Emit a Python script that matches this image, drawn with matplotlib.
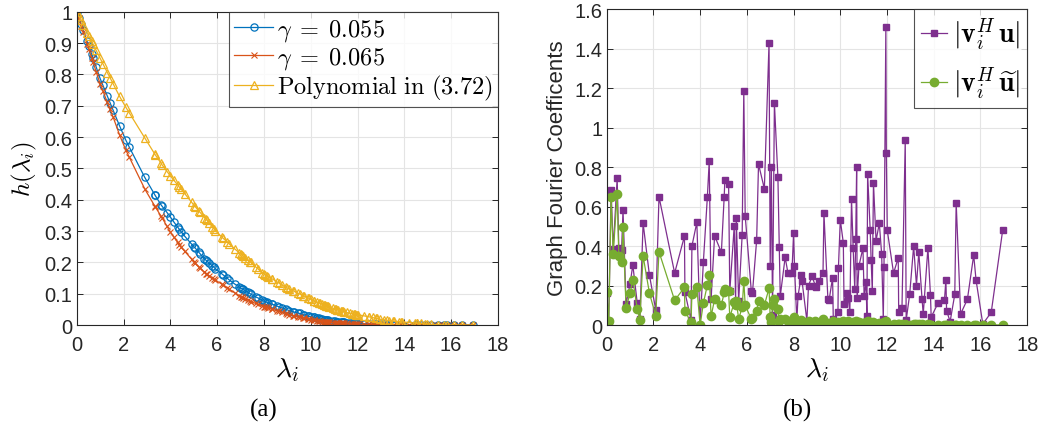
import matplotlib
matplotlib.use('Agg')
import matplotlib.pyplot as plt
from matplotlib.ticker import FuncFormatter

# graph Laplacian eigenvalues
lam = [0.00, 0.09, 0.19, 0.28, 0.45, 0.52, 0.64, 0.70, 0.83, 1.00,
       1.12, 1.31, 1.42, 1.56, 1.83, 2.10, 2.24, 2.91, 3.33, 3.35,
       3.61, 3.65, 3.86, 4.00, 4.14, 4.31, 4.39, 4.47, 4.62, 4.91,
       5.03, 5.06, 5.22, 5.27, 5.46, 5.52, 5.55, 5.65, 5.80, 5.87,
       5.93, 6.19, 6.24, 6.42, 6.50, 6.75, 6.95, 7.00, 7.05, 7.10,
       7.18, 7.33, 7.39, 7.43, 7.64, 7.76, 7.93, 8.00, 8.04, 8.14,
       8.19, 8.33, 8.36, 8.57, 8.64, 8.79, 8.93, 8.98, 9.08, 9.26,
       9.30, 9.47, 9.52, 9.67, 9.70, 9.90, 9.92, 10.00, 10.13, 10.16,
       10.27, 10.34, 10.41, 10.48, 10.55, 10.62, 10.66, 10.70, 10.72, 10.80,
       10.97, 11.02, 11.10, 11.14, 11.17, 11.28, 11.32, 11.37, 11.42, 11.53,
       11.67, 11.77, 11.84, 11.87, 11.95, 11.97, 12.01, 12.28, 12.48, 12.50,
       12.64, 12.78, 12.82, 12.97, 13.14, 13.26, 13.36, 13.50, 13.55, 13.75,
       13.86, 13.89, 14.18, 14.46, 14.52, 14.55, 14.70, 14.90, 14.96, 15.15,
       15.44, 15.71, 15.81, 16.10, 16.46, 16.95]

# filter responses h(lambda_i)
h_055 = [1.0, 0.981, 0.96, 0.941, 0.905, 0.891, 0.865, 0.852, 0.824, 0.787,
         0.765, 0.73, 0.71, 0.685, 0.636, 0.59, 0.569, 0.471, 0.416, 0.414,
         0.383, 0.379, 0.359, 0.345, 0.33, 0.313, 0.305, 0.297, 0.283, 0.258,
         0.248, 0.246, 0.232, 0.228, 0.211, 0.207, 0.205, 0.198, 0.188, 0.184,
         0.179, 0.164, 0.161, 0.15, 0.145, 0.131, 0.121, 0.118, 0.116, 0.114,
         0.11, 0.104, 0.101, 0.099, 0.09, 0.086, 0.079, 0.076, 0.075, 0.072,
         0.071, 0.067, 0.066, 0.06, 0.058, 0.054, 0.05, 0.049, 0.046, 0.042,
         0.041, 0.038, 0.037, 0.033, 0.033, 0.028, 0.028, 0.026, 0.024, 0.024,
         0.022, 0.021, 0.019, 0.018, 0.017, 0.016, 0.016, 0.015, 0.015, 0.014,
         0.012, 0.012, 0.011, 0.011, 0.011, 0.01, 0.009, 0.009, 0.009, 0.008,
         0.007, 0.006, 0.006, 0.006, 0.005, 0.005, 0.005, 0.004, 0.003, 0.003,
         0.003, 0.002, 0.002, 0.002, 0.002, 0.001, 0.001, 0.001, 0.001, 0.001,
         0.001, 0.001, 0.0, 0.0, 0.0, 0.0, 0.0, 0.0, 0.0, 0.0,
         0.0, 0.0, 0.0, 0.0, 0.0, 0.0]
h_065 = [1.0, 0.979, 0.956, 0.936, 0.897, 0.881, 0.853, 0.839, 0.809, 0.77,
         0.747, 0.711, 0.69, 0.663, 0.607, 0.558, 0.537, 0.434, 0.38, 0.378,
         0.347, 0.342, 0.315, 0.297, 0.282, 0.264, 0.256, 0.248, 0.235, 0.21,
         0.2, 0.197, 0.185, 0.182, 0.168, 0.164, 0.162, 0.158, 0.15, 0.146,
         0.143, 0.131, 0.128, 0.119, 0.115, 0.103, 0.092, 0.09, 0.088, 0.087,
         0.084, 0.079, 0.077, 0.075, 0.069, 0.066, 0.061, 0.059, 0.058, 0.056,
         0.054, 0.051, 0.05, 0.045, 0.044, 0.04, 0.037, 0.035, 0.033, 0.03,
         0.029, 0.026, 0.025, 0.022, 0.022, 0.019, 0.018, 0.017, 0.015, 0.015,
         0.014, 0.013, 0.012, 0.011, 0.011, 0.01, 0.01, 0.009, 0.009, 0.009,
         0.007, 0.007, 0.007, 0.006, 0.006, 0.006, 0.006, 0.006, 0.005, 0.005,
         0.004, 0.004, 0.003, 0.003, 0.003, 0.003, 0.003, 0.002, 0.002, 0.002,
         0.002, 0.001, 0.001, 0.001, 0.001, 0.001, 0.001, 0.0, 0.0, 0.0,
         0.0, 0.0, 0.0, 0.0, 0.0, 0.0, 0.0, 0.0, 0.0, 0.0,
         0.0, 0.0, 0.0, 0.0, 0.0, 0.0]
h_poly = [1.0, 0.987, 0.972, 0.959, 0.933, 0.922, 0.905, 0.896, 0.877, 0.852,
          0.834, 0.806, 0.79, 0.769, 0.73, 0.695, 0.678, 0.597, 0.547, 0.544,
          0.516, 0.511, 0.49, 0.476, 0.463, 0.448, 0.44, 0.433, 0.419, 0.392,
          0.38, 0.378, 0.364, 0.36, 0.343, 0.338, 0.336, 0.327, 0.313, 0.307,
          0.301, 0.282, 0.278, 0.266, 0.26, 0.243, 0.23, 0.227, 0.224, 0.221,
          0.215, 0.206, 0.202, 0.2, 0.186, 0.178, 0.167, 0.163, 0.161, 0.157,
          0.154, 0.148, 0.147, 0.137, 0.134, 0.127, 0.121, 0.119, 0.115, 0.109,
          0.107, 0.101, 0.099, 0.094, 0.093, 0.086, 0.085, 0.082, 0.078, 0.077,
          0.073, 0.071, 0.069, 0.067, 0.065, 0.063, 0.061, 0.06, 0.06, 0.057,
          0.053, 0.052, 0.05, 0.049, 0.048, 0.046, 0.045, 0.044, 0.043, 0.04,
          0.038, 0.036, 0.035, 0.034, 0.033, 0.033, 0.033, 0.029, 0.026, 0.026,
          0.024, 0.021, 0.021, 0.018, 0.017, 0.015, 0.014, 0.013, 0.012, 0.011,
          0.01, 0.01, 0.008, 0.006, 0.006, 0.006, 0.005, 0.003, 0.003, 0.002,
          0.001, 0.0, 0.0, 0.0, 0.0, 0.0]

# |v_i^H u| and |v_i^H u~|
coef_u = [0.16, 0.02, 0.685, 0.385, 0.743, 0.39, 0.38, 0.584, 0.106, 0.207,
          0.304, 0.11, 0.03, 0.516, 0.253, 0.078, 0.65, 0.263, 0.45, 0.166,
          0.027, 0.40, 0.52, 0.0, 0.32, 0.647, 0.83, 0.13, 0.452, 0.368,
          0.647, 0.736, 0.714, 0.17, 0.50, 0.118, 0.54, 0.12, 0.456, 1.186,
          0.553, 0.174, 0.162, 0.43, 0.815, 0.69, 1.428, 0.30, 0.80, 0.05,
          1.124, 0.748, 0.396, 0.145, 0.343, 0.263, 0.263, 0.464, 0.297, 0.02,
          0.145, 0.253, 0.225, 0.022, 0.20, 0.246, 0.20, 0.19, 0.225, 0.263,
          0.567, 0.13, 0.125, 0.24, 0.03, 0.064, 0.29, 0.533, 0.415, 0.106,
          0.162, 0.135, 0.067, 0.64, 0.39, 0.18, 0.435, 0.80, 0.135, 0.30,
          0.39, 0.146, 0.22, 0.044, 0.765, 0.48, 0.33, 0.17, 0.72, 0.427,
          0.515, 0.36, 0.03, 0.295, 1.507, 0.87, 0.48, 0.263, 0.34, 0.065,
          0.087, 0.935, 0.025, 0.155, 0.40, 0.20, 0.37, 0.13, 0.055, 0.39,
          0.15, 0.04, 0.11, 0.127, 0.23, 0.073, 0.017, 0.155, 0.62, 0.056,
          0.13, 0.354, 0.228, 0.005, 0.064, 0.48]
coef_ut = [0.165, 0.022, 0.65, 0.36, 0.663, 0.35, 0.32, 0.494, 0.086, 0.16,
           0.23, 0.081, 0.027, 0.35, 0.162, 0.047, 0.371, 0.125, 0.19, 0.072,
           0.013, 0.157, 0.19, 0.0, 0.11, 0.203, 0.253, 0.044, 0.13, 0.10,
           0.165, 0.18, 0.17, 0.039, 0.115, 0.10, 0.12, 0.03, 0.09, 0.224,
           0.10, 0.03, 0.035, 0.072, 0.12, 0.10, 0.186, 0.04, 0.013, 0.10,
           0.13, 0.08, 0.02, 0.03, 0.03, 0.02, 0.015, 0.04, 0.0, 0.02,
           0.005, 0.025, 0.01, 0.01, 0.02, 0.01, 0.02, 0.0, 0.01, 0.03,
           0.015, 0.01, 0.005, 0.01, 0.02, 0.005, 0.015, 0.01, 0.02, 0.005,
           0.01, 0.02, 0.01, 0.005, 0.015, 0.01, 0.02, 0.005, 0.01, 0.015,
           0.01, 0.005, 0.015, 0.01, 0.02, 0.005, 0.01, 0.01, 0.015, 0.005,
           0.01, 0.01, 0.005, 0.015, 0.02, 0.01, 0.005, 0.005, 0.003, 0.005,
           0.003, 0.005, 0.002, 0.002, 0.005, 0.003, 0.005, 0.003, 0.002, 0.003,
           0.002, 0.002, 0.002, 0.002, 0.001, 0.002, 0.001, 0.001, 0.002, 0.001,
           0.001, 0.001, 0.001, 0.001, 0.001, 0.0]

plt.rcParams['font.family'] = ['Liberation Sans', 'DejaVu Sans']
plt.rcParams['mathtext.fontset'] = 'cm'

BLUE, RED, YELLOW = '#0072BD', '#D95319', '#EDB120'
PURPLE, GREEN = '#7E2F8E', '#77AC30'
DARK = '#262626'

fig = plt.figure(figsize=(10.42, 4.27), dpi=100)
ax1 = fig.add_axes([0.0736, 0.2365, 0.4043, 0.7337])
ax2 = fig.add_axes([0.5822, 0.2365, 0.4036, 0.7400])


def matlab_style(ax, ymax, ystep):
    ax.set_xlim(0, 18)
    ax.set_ylim(0, ymax)
    ax.set_xticks(range(0, 19, 2))
    n = int(round(ymax / ystep))
    ax.set_yticks([i * ystep for i in range(n + 1)])
    ax.yaxis.set_major_formatter(FuncFormatter(lambda v, p: '%g' % round(v, 2)))
    ax.grid(True, color='#e4e4e4', linewidth=0.8)
    ax.set_axisbelow(True)
    ax.tick_params(direction='in', top=True, right=True, labelsize=14.5,
                   colors=DARK, length=4, width=0.7)
    ax.tick_params(axis='x', pad=7)
    ax.tick_params(axis='y', pad=3)
    for s in ax.spines.values():
        s.set_color(DARK)
        s.set_linewidth(0.8)


# (a) filter responses
matlab_style(ax1, 1.0, 0.1)
ax1.plot(lam, h_055, '-o', color=BLUE, lw=0.9, ms=5.2, mfc='none', mew=0.9,
         label=r'$\gamma\;=\;0.055$')
ax1.plot(lam, h_065, '-x', color=RED, lw=0.9, ms=3.8, mew=0.8,
         label=r'$\gamma\;=\;0.065$')
ax1.plot(lam, h_poly, '-^', color=YELLOW, lw=0.9, ms=5.5, mfc='none', mew=0.9,
         label=r'$\mathrm{Polynomial\ in\ (3.72)}$')
ax1.set_xlabel(r'$\lambda_i$', fontsize=20, labelpad=1)
ax1.set_ylabel(r'$h(\lambda_i)$', fontsize=18, labelpad=4)
leg1 = ax1.legend(loc='upper right', fontsize=17.5, frameon=True, fancybox=False,
                  borderaxespad=0, handlelength=1.6, handletextpad=0.15,
                  labelspacing=0.08, borderpad=0.22)
leg1.get_frame().set_edgecolor(DARK)
leg1.get_frame().set_linewidth(0.8)

# (b) graph Fourier coefficients
matlab_style(ax2, 1.6, 0.2)
ax2.plot(lam, coef_u, '-s', color=PURPLE, lw=0.9, ms=5,
         label=r'$|\mathbf{v}_i^H\,\mathbf{u}|$')
ax2.plot(lam, coef_ut, '-o', color=GREEN, lw=0.9, ms=6,
         label=r'$|\mathbf{v}_i^H\,\widetilde{\mathbf{u}}|$')
ax2.set_xlabel(r'$\lambda_i$', fontsize=20, labelpad=1)
ax2.set_ylabel('Graph Fourier Coefficents', fontsize=16, color=DARK, labelpad=5)
leg2 = ax2.legend(loc='upper right', fontsize=20, frameon=True, fancybox=False,
                  borderaxespad=0, handlelength=0.95, handletextpad=0.2,
                  labelspacing=0.45, borderpad=0.25)
leg2.get_frame().set_edgecolor(DARK)
leg2.get_frame().set_linewidth(0.8)

fig.text(264 / 1042, 1 - 410 / 427, '(a)', ha='center', va='center',
         fontsize=18, family='Liberation Serif')
fig.text(798 / 1042, 1 - 410 / 427, '(b)', ha='center', va='center',
         fontsize=18, family='Liberation Serif')

fig.savefig('out.png', dpi=100)
